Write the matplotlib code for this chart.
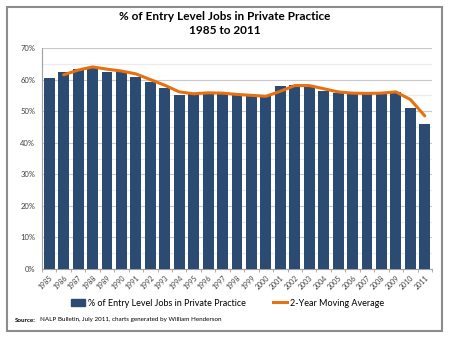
import matplotlib.pyplot as plt
from matplotlib.patches import Rectangle
from matplotlib.lines import Line2D

plt.rcParams["font.family"] = ["Lato", "DejaVu Sans"]

years = [str(y) for y in range(1985, 2012)]
pct_private = [60.5, 62.4, 63.5, 64.0, 62.5, 62.8, 60.8, 59.2, 57.2, 55.0,
               55.6, 55.8, 55.5, 55.2, 54.7, 54.7, 57.9, 58.3, 57.9, 56.3,
               55.8, 55.6, 55.6, 55.8, 56.2, 51.1, 46.0]
moving_avg = [61.5, 63.0, 64.0, 63.3, 62.7, 61.8, 60.0, 58.2, 56.1, 55.5,
              55.8, 55.7, 55.3, 55.0, 54.7, 56.3, 58.1, 58.1, 57.1, 56.1,
              55.7, 55.6, 55.7, 56.1, 53.7, 48.5]

bar_color = "#2C4B72"
line_color = "#E8700F"

fig = plt.figure(figsize=(4.5, 3.38), dpi=100)
ax = fig.add_axes([42 / 450, 1 - 269 / 338, 390 / 450, 221 / 338])

x = range(len(years))
ax.bar(x, pct_private, width=0.75, color=bar_color, zorder=3)
ax.plot(range(1, len(years)), moving_avg, color=line_color, linewidth=2.2,
        solid_capstyle="round", solid_joinstyle="round", zorder=4)

ax.set_ylim(0, 70)
ax.set_xlim(-0.5, len(years) - 0.5)
ax.set_yticks(range(0, 71, 10))
ax.set_yticklabels([f"{v}%" for v in range(0, 71, 10)], fontsize=5.5, color="#404040")
ax.set_yticks(range(5, 70, 10), minor=True)
ax.grid(axis="y", which="major", color="#C8C8C8", linewidth=0.8, zorder=0)
ax.grid(axis="y", which="minor", color="#EBEBEB", linewidth=0.8, zorder=0)
ax.tick_params(axis="y", which="both", length=0, pad=5)
ax.set_xticks(list(x))
ax.set_xticklabels(years, rotation=45, ha="right", rotation_mode="anchor",
                   fontsize=5, color="#404040")
ax.set_xticks([i - 0.5 for i in range(len(years) + 1)], minor=True)
ax.tick_params(axis="x", which="major", length=0, pad=4)
ax.tick_params(axis="x", which="minor", length=2.5, color="#A0A0A0", width=0.6)
for s in ["top", "right"]:
    ax.spines[s].set_visible(False)
ax.spines["left"].set_color("#A0A0A0")
ax.spines["bottom"].set_color("#A0A0A0")

fig.text(0.5, 1 - 16 / 338, "% of Entry Level Jobs in Private Practice", ha="center",
         va="center", fontsize=8.5, fontweight="bold")
fig.text(0.5, 1 - 31 / 338, "1985 to 2011", ha="center", va="center",
         fontsize=8.5, fontweight="bold")

handles = [Rectangle((0, 0), 1, 1, color=bar_color),
           Line2D([0], [0], color=line_color, linewidth=2.2)]
fig.legend(handles, ["% of Entry Level Jobs in Private Practice", "2-Year Moving Average"],
           loc="center", bbox_to_anchor=(0.505, 1 - 303 / 338), ncol=2, frameon=False,
           fontsize=6.5, handlelength=1.6, columnspacing=3, handletextpad=0.3)

fig.text(15 / 450, 1 - 320 / 338, "Source:", fontsize=4.5, fontweight="bold", va="center")
fig.text(40 / 450, 1 - 320 / 338,
         "NALP Bulletin, July 2011, charts generated by William Henderson",
         fontsize=4.5, va="center")

fig.patches.append(Rectangle((7 / 450, 1 - 331 / 338), 435 / 450, 324 / 338,
                             transform=fig.transFigure, fill=False,
                             edgecolor="#8C8C8C", linewidth=1.5))

fig.savefig("out.png", dpi=100)
